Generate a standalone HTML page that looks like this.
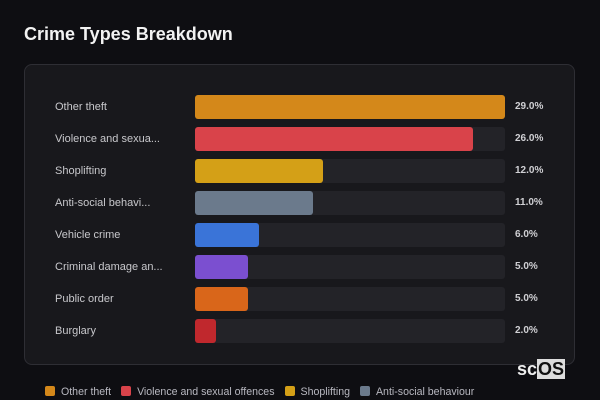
<!DOCTYPE html>
<html><head><meta charset="utf-8"><style>
body{margin:0;width:600px;height:400px;background:#0e0e12;font-family:"Liberation Sans","DejaVu Sans",sans-serif;overflow:hidden;position:relative}
#title{position:absolute;left:24px;top:24px;font-size:18px;font-weight:bold;color:#f2f2f2}
#card{position:absolute;left:24px;top:64px;width:551px;height:301px;border:1px solid #2e2e34;border-radius:8px;background:#18181c;box-sizing:border-box}
.lbl{position:absolute;left:55px;font-size:11px;color:#c8c8cc;line-height:24px}
.trk{position:absolute;left:195px;width:310px;height:24px;background:#232328;border-radius:3px}
.bar{position:absolute;left:195px;height:24px;border-radius:3px}
.val{position:absolute;left:515px;font-size:10px;font-weight:bold;color:#d0d0d4;line-height:24px}
#legend{position:absolute;left:45px;top:386px;font-size:10.6px;color:#b8b8c0;white-space:nowrap}
.li{display:inline-block;margin-right:10px}
.sw{display:inline-block;width:10px;height:10px;border-radius:2px;vertical-align:-1px;margin-right:6px}
#logo{position:absolute;left:517px;top:359px;font-size:18px;font-weight:bold;color:#eee}
#logo span{background:#ddd;color:#111;padding:0 1px}
</style></head><body>
<div id="title">Crime Types Breakdown</div>
<div id="card"></div>
<div id="chart"></div>
<div id="legend"></div>
<div id="logo">sc<span>OS</span></div>
<script>
const categories=["Other theft","Violence and sexua...","Shoplifting","Anti-social behavi...","Vehicle crime","Criminal damage an...","Public order","Burglary"];
const values=[29.0,26.0,12.0,11.0,6.0,5.0,5.0,2.0];
const colors=["#d4881a","#d9434a","#d4a017","#6b7a8c","#3a74d8","#7b4fd0","#d9661a","#c0282d"];
const legendNames=["Other theft","Violence and sexual offences","Shoplifting","Anti-social behaviour"];
const maxV=Math.max(...values);
const x=v=>v/maxV*310;
const y=i=>95+i*32;
const c=document.getElementById('chart');
categories.forEach((cat,i)=>{
 const l=document.createElement('div');l.className='lbl';l.style.top=y(i)+'px';l.textContent=cat;
 
 c.appendChild(l);
 const t=document.createElement('div');t.className='trk';t.style.top=y(i)+'px';
 
 c.appendChild(t);
 const b=document.createElement('div');b.className='bar';b.style.top=y(i)+'px';b.style.width=x(values[i])+'px';b.style.background=colors[i];
 
 c.appendChild(b);
 const v=document.createElement('div');v.className='val';v.style.top=y(i)+'px';v.textContent=values[i].toFixed(1)+'%';
 
 c.appendChild(v);
});
const lg=document.getElementById('legend');
legendNames.forEach((n,i)=>{
 const s=document.createElement('span');s.className='li';
 
 
 s.innerHTML='<span class="sw" style="background:'+colors[i]+'"></span>'+n;lg.appendChild(s);
});
</script>
</body></html>
